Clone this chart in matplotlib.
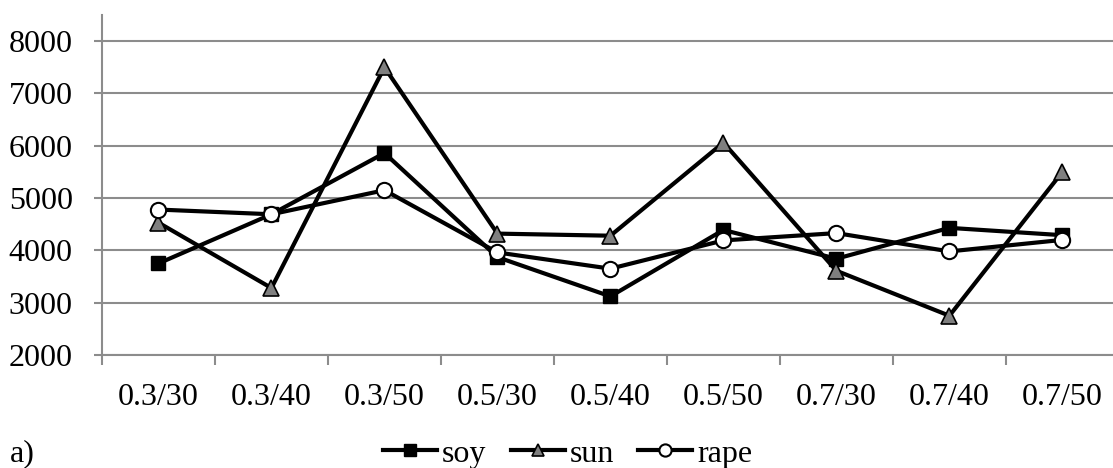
import matplotlib
matplotlib.use("Agg")
import matplotlib.pyplot as plt

categories = ["0.3/30", "0.3/40", "0.3/50", "0.5/30", "0.5/40",
              "0.5/50", "0.7/30", "0.7/40", "0.7/50"]
soy  = [3750, 4690, 5860, 3870, 3120, 4390, 3840, 4430, 4290]
sun  = [4530, 3280, 7500, 4320, 4280, 6060, 3610, 2750, 5500]
rape = [4780, 4690, 5150, 3960, 3650, 4190, 4330, 3980, 4200]

plt.rcParams["font.family"] = ["Liberation Serif", "DejaVu Serif"]
GRID = "#8c8c8c"
FS = 23

fig = plt.figure(figsize=(11.13, 4.68), dpi=100)
ax = fig.add_axes([0.0916, 0.2415, 0.9137, 0.7265])

x = list(range(len(categories)))
ax.plot(x, soy, color="black", lw=3, marker="s", ms=10, mfc="black", mec="black", label="soy", zorder=3)
ax.plot(x, sun, color="black", lw=3, marker="^", ms=11, mfc="#7f7f7f", mec="black", mew=1.2, label="sun", zorder=3)
ax.plot(x, rape, color="black", lw=3, marker="o", ms=11, mfc="white", mec="black", mew=1.5, label="rape", zorder=3)

ax.set_xlim(-0.5, 8.5)
ax.set_ylim(2000, 8500)
ax.set_yticks(range(2000, 8001, 1000))
ax.yaxis.grid(True, color=GRID, lw=1.5)
ax.set_axisbelow(True)

ax.set_xticks(x)
ax.set_xticklabels(categories)
ax.set_xticks([i - 0.5 for i in range(len(categories) + 1)], minor=True)
ax.tick_params(axis="x", which="major", length=0, pad=20, labelsize=FS)
ax.tick_params(axis="x", which="minor", length=7.5, width=1.5, color=GRID, direction="out")
ax.tick_params(axis="y", length=6, width=1.5, color=GRID, labelsize=FS, pad=15)

for s in ["top", "right"]:
    ax.spines[s].set_visible(False)
for s in ["left", "bottom"]:
    ax.spines[s].set_color(GRID)
    ax.spines[s].set_linewidth(1.5)

fig.legend(loc="center", bbox_to_anchor=(0.51, 0.03), ncol=3, frameon=False,
           fontsize=FS, handlelength=1.7, handletextpad=0.15, columnspacing=0.75,
           borderaxespad=0, markerscale=0.8)
fig.text(0.009, 0.03, "a)", fontsize=FS, va="center", ha="left")

fig.savefig("out.png", dpi=100)
